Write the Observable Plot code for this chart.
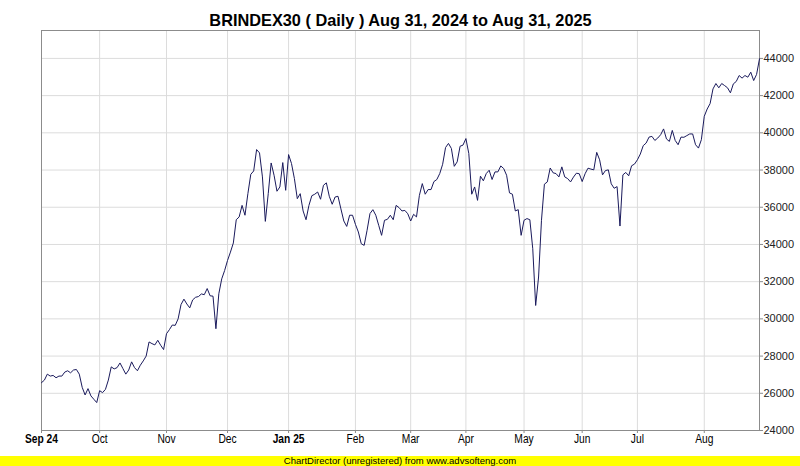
<!DOCTYPE html>
<html>
<head>
<meta charset="utf-8">
<script src="https://cdn.jsdelivr.net/npm/d3@7"></script>
<script src="https://cdn.jsdelivr.net/npm/@observablehq/plot@0.6"></script>
<style>
  body { margin: 0; background: #fff; }
  #chart svg { display: block; }
  #banner {
    width: 800px; height: 10px; background: #ffff00; color: #000;
    font-family: "Liberation Sans Narrow", "Arial Narrow", "Liberation Sans", Arial, sans-serif;
    font-size: 9.5px; line-height: 10px; text-align: center; overflow: hidden;
  }
</style>
</head>
<body>
<div id="chart"></div>
<div id="banner">ChartDirector (unregistered) from www.advsofteng.com</div>
<script>
const title = "BRINDEX30 ( Daily ) Aug 31, 2024 to Aug 31, 2025";

// Daily closes, one per trading day (Sep 2024 – Aug 2025)
const closes = [
  26570, 26710, 27030, 26925, 26960, 26835, 26925, 26925, 27140, 27210,
  27100, 27250, 27280, 27030, 26320, 25910, 26250, 25860, 25680, 25500,
  26140, 26035, 26210, 26710, 27420, 27310, 27380, 27630, 27330, 27030,
  27250, 27690, 27380, 27210, 27510, 27740, 28000, 28760, 28670, 28600,
  28850, 28580, 28350, 29200, 29420, 29670, 29650, 30000, 30770, 31060,
  30800, 30590, 31020, 31160, 31200, 31340, 31300, 31630, 31240, 31220,
  29470,
  31350, 32150, 32600, 33140, 33590, 34080, 35330, 35480, 36100, 35570,
  36730, 37770, 37950, 39100, 38920, 37630, 35240, 36730, 38380, 37720,
  36860, 37090, 38400, 36910, 38830, 38350, 37540, 36460, 36730, 35800,
  35330, 36100, 36620, 36700, 36820, 36430, 37180, 37310, 36590, 36160,
  36550, 36590, 35910, 35260, 34970, 35570, 35570, 35080, 34670, 34040,
  33950, 34760, 35660, 35870, 35570, 35030, 34490, 35300, 35350, 35570,
  35330,
  36100, 35980, 35800, 35830, 35650, 35260, 35620, 35480, 36640, 37270,
  36700, 36950, 36950, 37380, 37490, 37810, 38310, 39210, 39430, 39160,
  38200, 38440, 39280, 39340, 39690, 38890, 36700, 37090, 36370, 37670,
  37420, 37810, 37990, 37490, 37900, 37900, 38220, 38080, 37720, 36770,
  36700, 35800, 35870, 34490, 35300, 35390, 35330, 33770, 30720, 32250,
  35300, 37240, 37360, 38110, 37850, 37810, 37630, 38170, 37630, 37540,
  37360,
  37620, 37830, 37800, 37380, 37800, 38100, 38050, 38010, 38950, 38550,
  37740, 37970, 38010, 37260, 37020, 37110, 34990, 37740, 37870, 37690,
  38230, 38320, 38550, 38860, 39310, 39450, 39770, 39810, 39590, 39720,
  39900, 40210, 39670, 39540, 40130, 39590, 39360, 39770, 39760, 39850,
  39940, 39940, 39360, 39180, 39630, 40890, 41280, 41570, 42360, 42650,
  42420, 42650, 42540, 42420, 42150, 42630, 42760, 43080, 42940, 43080,
  42990, 43260, 42810, 43140, 43980
];

// Month ticks: index of first trading day of each month and its label
const monthTickIndex = [0, 20, 43, 64, 85, 108, 127, 146, 166, 186, 205, 228];
const monthTickLabel = ["Sep 24", "Oct", "Nov", "Dec", "Jan 25", "Feb", "Mar", "Apr", "May", "Jun", "Jul", "Aug"];
const boldLabels = ["Sep 24", "Jan 25"];

const yTicks = [24000, 26000, 28000, 30000, 32000, 34000, 36000, 38000, 40000, 42000, 44000];
const yDomain = [24000, 45500];

const narrow = '"Liberation Sans Narrow", "Arial Narrow", "Liberation Sans", Arial, sans-serif';
const regular = '"Liberation Sans", Arial, sans-serif';

const data = closes.map((v, i) => ({i, v}));
const labelOf = new Map(monthTickIndex.map((t, k) => [t, monthTickLabel[k]]));
const boldTicks = monthTickIndex.filter(t => boldLabels.includes(labelOf.get(t)));
const plainTicks = monthTickIndex.filter(t => !boldLabels.includes(labelOf.get(t)));

const chart = Plot.plot({
  width: 800,
  height: 456,
  marginLeft: 41,
  marginRight: 41,
  marginTop: 30,
  marginBottom: 26,
  style: {background: "#fff"},
  x: {domain: [0, closes.length - 1], axis: null},
  y: {domain: yDomain, axis: null},
  marks: [
    Plot.gridX(monthTickIndex, {stroke: "#dcdcdc", strokeOpacity: 1}),
    Plot.gridY(yTicks, {stroke: "#dcdcdc", strokeOpacity: 1}),
    Plot.frame({stroke: "#8c8c8c"}),
    Plot.axisY({
      anchor: "right", label: null, ticks: yTicks, tickSize: 3, tickPadding: 1,
      tickFormat: d3.format("d"), fontSize: 11, fontFamily: regular,
      stroke: "#8c8c8c", fill: "#222"
    }),
    Plot.axisX({
      anchor: "bottom", label: null, ticks: plainTicks, tickSize: 3, tickPadding: 1,
      tickFormat: t => labelOf.get(t), fontSize: 12.5, fontFamily: narrow,
      stroke: "#8c8c8c", fill: "#000", ariaLabel: "month-label"
    }),
    Plot.axisX({
      anchor: "bottom", label: null, ticks: boldTicks, tickSize: 3, tickPadding: 1,
      tickFormat: t => labelOf.get(t), fontSize: 12.5, fontFamily: narrow,
      fontWeight: "bold", stroke: "#8c8c8c", fill: "#000", ariaLabel: "month-label"
    }),
    Plot.line(data, {x: "i", y: "v", stroke: "#1a1a5c", strokeWidth: 1}),
    Plot.text([title], {
      frameAnchor: "top", dy: -17, fontSize: 17, fontWeight: "bold",
      fontFamily: narrow, fill: "#000", className: "chart-title"
    })
  ]
});

// Condense text horizontally around its anchor (mimics the narrow face of the original)
function condense(nodes, s) {
  nodes.forEach(t => {
    const x = +(t.getAttribute("x") || 0);
    const tr = t.getAttribute("transform") || "";
    t.setAttribute("transform", `${tr} translate(${x},0) scale(${s},1) translate(${-x},0)`);
  });
}
condense(chart.querySelectorAll('g[aria-label^="month-label"] text'), 0.82);
const titleNodes = Array.from(chart.querySelectorAll("text")).filter(t => t.textContent === title);
condense(titleNodes, 0.96);

document.getElementById("chart").appendChild(chart);
</script>
</body>
</html>
